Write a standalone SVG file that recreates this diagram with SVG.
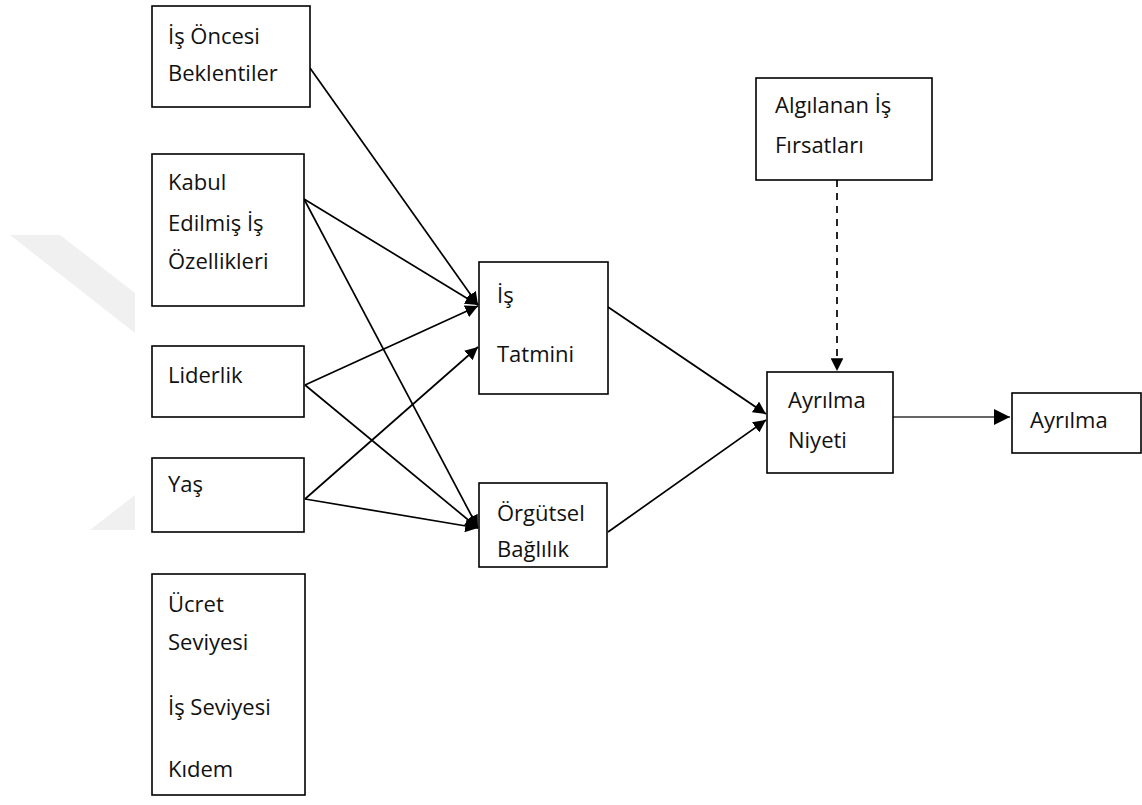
<svg xmlns="http://www.w3.org/2000/svg" width="1142" height="805" viewBox="0 0 1142 805">
<style>
.box{fill:#fff;stroke:#000;stroke-width:1.6}
.t{font-family:"Open Sans","Noto Sans","DejaVu Sans",sans-serif;font-size:22px;fill:#111}
.c{fill:none;stroke:#000;stroke-width:1.7}
</style>
<defs>
<marker id="ah" viewBox="0 0 10 10" refX="10" refY="5" markerWidth="7.5" markerHeight="7.5" markerUnits="strokeWidth" orient="auto">
<path d="M0,0 L10,5 L0,10 Z" fill="#000"/>
</marker>
</defs>
<rect width="1142" height="805" fill="#fff"/>
<g id="watermark" fill="#f0f0f0">
<polygon points="10,235 60,235 135,293 135,333"/>
<polygon points="135,495 135,530 90,530"/>
</g>
<g id="connectors">
<line class="c" x1="310" y1="68" x2="478" y2="305" marker-end="url(#ah)"/>
<line class="c" x1="304" y1="199" x2="478" y2="305" marker-end="url(#ah)"/>
<line class="c" x1="304" y1="199" x2="478" y2="528" marker-end="url(#ah)"/>
<line class="c" x1="305" y1="385" x2="478" y2="306" marker-end="url(#ah)"/>
<line class="c" x1="305" y1="385" x2="478" y2="528" marker-end="url(#ah)"/>
<line class="c" x1="305" y1="499" x2="478" y2="347" marker-end="url(#ah)"/>
<line class="c" x1="305" y1="499" x2="478" y2="528" marker-end="url(#ah)"/>
<line class="c" x1="608" y1="307" x2="766" y2="414" marker-end="url(#ah)"/>
<line class="c" x1="608" y1="532" x2="766" y2="420" marker-end="url(#ah)"/>
<line class="c" x1="837" y1="180" x2="837" y2="371" stroke-dasharray="7,6" marker-end="url(#ah)"/>
<line x1="893" y1="417" x2="1010" y2="417" stroke="#666" stroke-width="2.2" marker-end="url(#ah)"/>
</g>
<g id="n1"><rect class="box" x="152" y="6" width="158" height="101"/>
<text class="t" x="168" y="44">İş Öncesi</text><text class="t" x="168" y="81">Beklentiler</text></g>
<g id="n2"><rect class="box" x="152" y="154" width="152" height="152"/>
<text class="t" x="168" y="190">Kabul</text><text class="t" x="168" y="231">Edilmiş İş</text><text class="t" x="168" y="269">Özellikleri</text></g>
<g id="n3"><rect class="box" x="152" y="346" width="152" height="71"/>
<text class="t" x="168" y="383">Liderlik</text></g>
<g id="n4"><rect class="box" x="152" y="458" width="152" height="74"/>
<text class="t" x="168" y="492">Yaş</text></g>
<g id="n5"><rect class="box" x="152" y="574" width="153" height="221"/>
<text class="t" x="168" y="612">Ücret</text><text class="t" x="168" y="650">Seviyesi</text><text class="t" x="168" y="715">İş Seviyesi</text><text class="t" x="168" y="777">Kıdem</text></g>
<g id="n6"><rect class="box" x="479" y="262" width="129" height="132"/>
<text class="t" x="497" y="303">İş</text><text class="t" x="497" y="362">Tatmini</text></g>
<g id="n7"><rect class="box" x="479" y="483" width="128" height="84"/>
<text class="t" x="497" y="521">Örgütsel</text><text class="t" x="497" y="557">Bağlılık</text></g>
<g id="n8"><rect class="box" x="756" y="78" width="176" height="102"/>
<text class="t" x="775" y="113">Algılanan İş</text><text class="t" x="775" y="153">Fırsatları</text></g>
<g id="n9"><rect class="box" x="767" y="372" width="126" height="101"/>
<text class="t" x="788" y="408">Ayrılma</text><text class="t" x="788" y="448">Niyeti</text></g>
<g id="n10"><rect class="box" x="1012" y="393" width="129" height="60"/>
<text class="t" x="1030" y="428">Ayrılma</text></g>
</svg>
